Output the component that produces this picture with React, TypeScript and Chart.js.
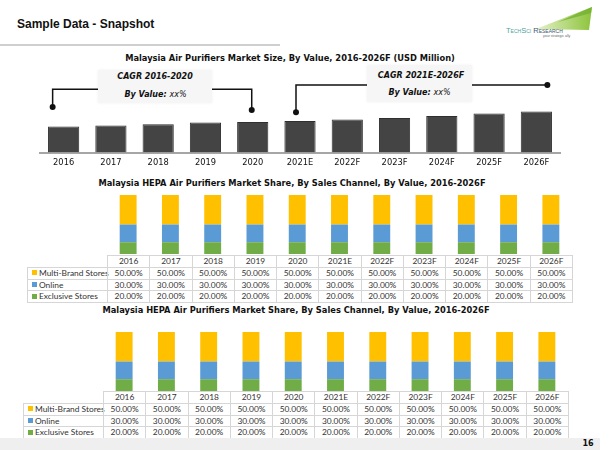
import React, { useEffect, useRef } from "react";
import { Chart, registerables } from "chart.js";

Chart.register(...registerables);

// ---------- data ----------
const years = ["2016", "2017", "2018", "2019", "2020", "2021E", "2022F", "2023F", "2024F", "2025F", "2026F"];
const marketSize = [260, 270, 283, 300, 305, 315, 330, 345, 365, 390, 410];
const seriesNames = ["Multi-Brand Stores", "Online", "Exclusive Stores"];
const multiBrandShare = [50, 50, 50, 50, 50, 50, 50, 50, 50, 50, 50];
const onlineShare = [30, 30, 30, 30, 30, 30, 30, 30, 30, 30, 30];
const exclusiveShare = [20, 20, 20, 20, 20, 20, 20, 20, 20, 20, 20];
const seriesColors = ["#FFC000", "#5B9BD5", "#70AD47"];

const titleTop = "Malaysia Air Purifiers Market Size, By Value, 2016-2026F (USD Million)";
const titleShare = "Malaysia HEPA Air Purifiers Market Share, By Sales Channel, By Value, 2016-2026F";

const VERD = "'DejaVu Sans', Verdana, sans-serif";
const TABLEFONT = "Lato, 'Liberation Sans', sans-serif";

// ---------- top chart ----------
const cagrPlugin = {
  id: "cagrBrackets",
  afterDatasetsDraw(chart: any) {
    const meta = chart.getDatasetMeta(0);
    const ctx = chart.ctx as CanvasRenderingContext2D;
    const off = 60; // canvas top in page coords
    const at = (i: number, dx: number, lift: number) => {
      const b = meta.data[i];
      return { x: b.x + dx, y: b.y - lift };
    };
    const y1 = 89.3 - off;
    const y2 = 85 - off;
    const a0 = at(0, -11, 19.5);
    const a1 = at(4, -1, 12);
    const a2 = at(5, -4, 8.7);
    const a3x = meta.data[10].x + 11;
    ctx.save();
    ctx.strokeStyle = "#111";
    ctx.fillStyle = "#111";
    ctx.lineWidth = 1.5;
    const poly = (pts: number[][]) => {
      ctx.beginPath();
      ctx.moveTo(pts[0][0], pts[0][1]);
      for (let k = 1; k < pts.length; k++) ctx.lineTo(pts[k][0], pts[k][1]);
      ctx.stroke();
    };
    const dot = (x: number, y: number) => {
      ctx.beginPath();
      ctx.arc(x, y, 3, 0, Math.PI * 2);
      ctx.fill();
    };
    poly([[a0.x, a0.y], [a0.x, y1], [98, y1]]);
    poly([[212, y1], [a1.x, y1], [a1.x, a1.y]]);
    poly([[a2.x, a2.y], [a2.x, y2], [367, y2]]);
    poly([[472, y2], [a3x, y2]]);
    dot(a0.x, a0.y);
    dot(a1.x, a1.y);
    dot(a2.x, a2.y);
    dot(a3x, y2);
    ctx.restore();
  },
};

function TopChart() {
  const ref = useRef<HTMLCanvasElement>(null);
  useEffect(() => {
    const chart = new Chart(ref.current!, {
      type: "bar",
      data: {
        labels: years,
        datasets: [
          {
            data: marketSize,
            backgroundColor: "#444444",
            borderColor: "#2f2f2f",
            borderWidth: 1,
            barPercentage: 0.66,
            categoryPercentage: 1,
          },
        ],
      },
      options: {
        animation: false,
        responsive: false,
        devicePixelRatio: 1,
        layout: { padding: { left: 40, right: 40, top: 40, bottom: 0 } },
        plugins: { legend: { display: false }, tooltip: { enabled: false } },
        scales: {
          x: {
            grid: { display: false, drawTicks: false },
            border: { display: true, color: "#a6a6a6", width: 2 },
            ticks: { color: "#111", font: { family: VERD, size: 8.3 }, padding: 5 },
            afterFit: (s: any) => {
              s.height = 22.5;
            },
          },
          y: { display: false, min: 0, max: 525 },
        },
      },
      plugins: [cagrPlugin],
    });
    return () => chart.destroy();
  }, []);
  return (
    <canvas
      ref={ref}
      width={600}
      height={115}
      style={{ position: "absolute", left: 0, top: 60, width: 600, height: 115 }}
    />
  );
}

// ---------- share charts ----------
function ShareChart({ left, top, width, height }: { left: number; top: number; width: number; height: number }) {
  const ref = useRef<HTMLCanvasElement>(null);
  useEffect(() => {
    const chart = new Chart(ref.current!, {
      type: "bar",
      data: {
        labels: years,
        datasets: [
          { label: seriesNames[2], data: exclusiveShare, backgroundColor: seriesColors[2] },
          { label: seriesNames[1], data: onlineShare, backgroundColor: seriesColors[1] },
          { label: seriesNames[0], data: multiBrandShare, backgroundColor: seriesColors[0] },
        ].map((d) => ({ ...d, barPercentage: 0.4, categoryPercentage: 1, borderWidth: 0 })),
      },
      options: {
        animation: false,
        responsive: false,
        devicePixelRatio: 1,
        layout: { padding: 0 },
        plugins: { legend: { display: false }, tooltip: { enabled: false } },
        scales: {
          x: { display: false, stacked: true },
          y: { display: false, stacked: true, min: 0, max: 100 },
        },
      },
    });
    return () => chart.destroy();
  }, []);
  return (
    <canvas
      ref={ref}
      width={width}
      height={height}
      style={{ position: "absolute", left, top, width, height }}
    />
  );
}

function DataTable({ left, top, labelW, dataW, rowH }: { left: number; top: number; labelW: number; dataW: number; rowH: number }) {
  const colW = dataW / years.length;
  const rows = [multiBrandShare, onlineShare, exclusiveShare];
  const border = "1px solid #d6d6d6";
  const cells: any[] = [];
  const base: any = {
    position: "absolute",
    boxSizing: "border-box",
    height: rowH + 1,
    lineHeight: rowH + "px",
    fontFamily: TABLEFONT,
    fontSize: 8.4,
    color: "#333",
    whiteSpace: "nowrap",
    border,
  };
  years.forEach((y, i) => {
    cells.push(
      <div key={"h" + i} style={{ ...base, left: labelW + i * colW, top: 0, width: colW + 1, textAlign: "center" }}>
        {y}
      </div>
    );
  });
  rows.forEach((vals, r) => {
    const t = (r + 1) * rowH;
    cells.push(
      <div key={"l" + r} style={{ ...base, left: 0, top: t, width: labelW + 1, paddingLeft: 4 }}>
        <span
          style={{
            display: "inline-block",
            width: 5,
            height: 5,
            background: seriesColors[r],
            marginRight: 2,
            verticalAlign: "middle",
            position: "relative",
            top: -1,
          }}
        />
        {seriesNames[r]}
      </div>
    );
    vals.forEach((v, i) => {
      cells.push(
        <div key={"c" + r + "_" + i} style={{ ...base, left: labelW + i * colW, top: t, width: colW + 1, textAlign: "center" }}>
          {v.toFixed(2) + "%"}
        </div>
      );
    });
  });
  return <div style={{ position: "absolute", left, top }}>{cells}</div>;
}

function Centered({ x, y, style, children }: any) {
  return (
    <div
      style={{
        position: "absolute",
        left: x,
        top: y,
        transform: "translate(-50%, -50%)",
        whiteSpace: "nowrap",
        ...style,
      }}
    >
      {children}
    </div>
  );
}

const chartTitleStyle = { fontFamily: VERD, fontWeight: "bold", fontSize: 8.3, color: "#111" };
const cagrStyle = { fontFamily: VERD, fontWeight: "bold", fontStyle: "italic", fontSize: 8, color: "#111" };

export default function App() {
  return (
    <div
      style={{
        position: "absolute",
        left: 0,
        top: 0,
        width: 600,
        height: 450,
        background: "#fff",
        overflow: "hidden",
      }}
    >
      {/* slide header */}
      <div
        style={{
          position: "absolute",
          left: 17,
          top: 17,
          fontFamily: "'Liberation Sans', Arial, sans-serif",
          fontWeight: "bold",
          fontSize: 12,
          color: "#111",
          whiteSpace: "nowrap",
        }}
      >
        Sample Data - Snapshot
      </div>
      <div style={{ position: "absolute", left: 0, top: 44, width: 280, height: 2, background: "#cfcfcf" }} />

      {/* logo */}
      <svg style={{ position: "absolute", left: 500, top: 0 }} width={100} height={45}>
        <defs>
          <linearGradient id="lg" x1="0" y1="0" x2="1" y2="0">
            <stop offset="0" stopColor="#e6f1c9" />
            <stop offset="1" stopColor="#8cc43c" />
          </linearGradient>
        </defs>
        <polygon points="36,29 92,7 89,30" fill="url(#lg)" />
        <polygon points="58,22 92,7 91,13" fill="#6fae2e" opacity="0.7" />
      </svg>
      <div
        style={{
          position: "absolute",
          left: 506,
          top: 26,
          fontFamily: "'Liberation Sans', Arial, sans-serif",
          fontSize: 7.5,
          fontVariant: "small-caps",
          whiteSpace: "nowrap",
        }}
      >
        <span style={{ color: "#4fa39b" }}>TechSci</span> <span style={{ color: "#3b5b70" }}>Research</span>
      </div>
      <div
        style={{
          position: "absolute",
          left: 543,
          top: 34,
          fontFamily: "'Liberation Sans', Arial, sans-serif",
          fontSize: 3.5,
          color: "#666",
          whiteSpace: "nowrap",
        }}
      >
        your strategic ally
      </div>

      {/* top chart */}
      <Centered x={290} y={58} style={chartTitleStyle}>
        {titleTop}
      </Centered>
      <div style={{ position: "absolute", left: 98, top: 70, width: 114, height: 33, background: "#f6f6f6", boxShadow: "0 0 3px #f2f2f2" }} />
      <div style={{ position: "absolute", left: 367, top: 65, width: 105, height: 37, background: "#f6f6f6", boxShadow: "0 0 3px #f2f2f2" }} />
      <Centered x={155} y={76} style={cagrStyle}>
        CAGR 2016-2020
      </Centered>
      <Centered x={155.5} y={94.3} style={cagrStyle}>
        By Value: <span style={{ fontWeight: "normal" }}>xx%</span>
      </Centered>
      <Centered x={421} y={75} style={cagrStyle}>
        CAGR 2021E-2026F
      </Centered>
      <Centered x={419.5} y={92.3} style={cagrStyle}>
        By Value: <span style={{ fontWeight: "normal" }}>xx%</span>
      </Centered>
      <TopChart />

      {/* middle chart */}
      <Centered x={292} y={183} style={chartTitleStyle}>
        {titleShare}
      </Centered>
      <ShareChart left={107} top={195} width={465} height={59} />
      <DataTable left={27} top={255} labelW={80} dataW={465} rowH={11.75} />

      {/* bottom chart */}
      <Centered x={296} y={310} style={chartTitleStyle}>
        {titleShare}
      </Centered>
      <ShareChart left={103} top={332} width={465} height={59} />
      <DataTable left={23} top={391} labelW={80} dataW={465} rowH={11.75} />

      {/* footer */}
      <div style={{ position: "absolute", left: 0, top: 438, width: 600, height: 12, background: "#efefef" }} />
      <Centered x={588} y={443} style={{ fontFamily: VERD, fontWeight: "bold", fontSize: 8, color: "#111" }}>
        16
      </Centered>
    </div>
  );
}
